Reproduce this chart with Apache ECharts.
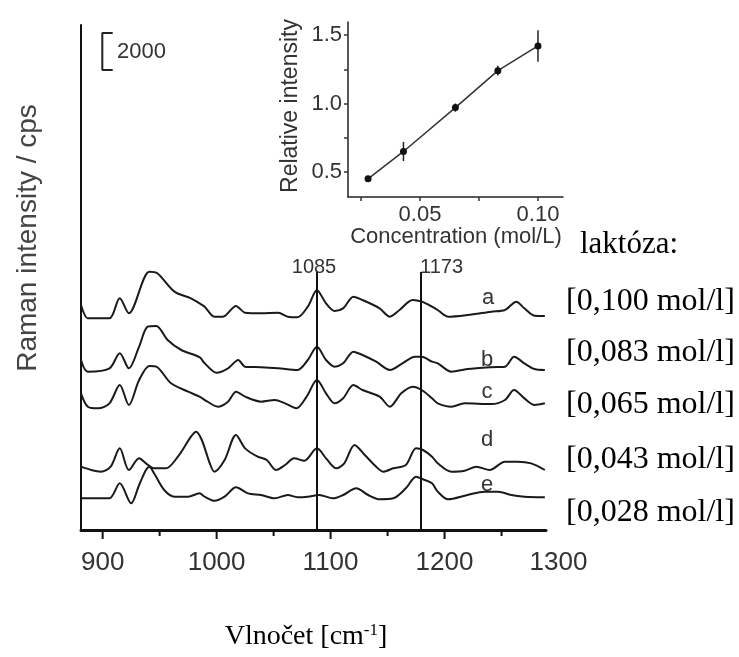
<!DOCTYPE html>
<html><head><meta charset="utf-8">
<script src="https://cdn.jsdelivr.net/npm/echarts@6/dist/echarts.min.js"></script>
<style>html,body{margin:0;padding:0;background:#fff}#c{width:739px;height:657px}</style>
</head><body><div id="c"></div>
<script>
// ---- Raman spectra (wavenumber cm-1, intensity cps incl. stacking offset) ----
const specA = [[881,12150],[887,11430],[893,11430],[906,11430],[915,12510],[923,11700],[941,13950],[948,13860],[963,12870],[977.5,12510],[985,12240],[989.5,12060],[998,11520],[1005.5,11520],[1017,12100],[1025,11730],[1039,11700],[1054,11730],[1062.5,11520],[1071,11490],[1080,12060],[1088,12950],[1096,12240],[1103.5,11830],[1111,11970],[1120,12600],[1128,12420],[1143,11970],[1152,11520],[1160.5,11880],[1172,12420],[1180,12330],[1189,12060],[1194,11880],[1203,11520],[1220,11610],[1241,11790],[1253,11880],[1263,12330],[1270,11970],[1279,11570],[1288,11560]];
const specB = [[881,9180],[887,8550],[906,8730],[915,9540],[923,8730],[932,9900],[939.5,10980],[947,11020],[957,10260],[969,9720],[985,9330],[989.5,9000],[1000,8490],[1010,8730],[1019,9180],[1025,8820],[1039,8790],[1054,8730],[1071,8640],[1080,9180],[1088,9900],[1096,9180],[1103.5,8820],[1111,9000],[1120,9630],[1128,9450],[1140,9090],[1152,8640],[1163,9000],[1174,9360],[1180,9360],[1189,9090],[1194,9000],[1206,8550],[1220,8690],[1241,8790],[1253,8820],[1261,9360],[1270,9000],[1279,8690],[1288,8640]];
const specC = [[881,7380],[887,6660],[896,6570],[906,6840],[915,7830],[923,6750],[932,8100],[941,8860],[948,8790],[960,7920],[975,7470],[985,7200],[992,6930],[1001,6660],[1010,6930],[1017,7470],[1025,7200],[1039,6930],[1051,7020],[1060,6840],[1070,6570],[1079,7200],[1088,8100],[1096,7380],[1103.5,6840],[1111,7110],[1120,7830],[1128,7560],[1143,7200],[1152,6660],[1162,7380],[1172,7740],[1180,7560],[1189,7110],[1194,6840],[1206,6660],[1217.5,6840],[1241,6800],[1253,7020],[1261,7560],[1270,7110],[1279,6750],[1288,6840]];
const specD = [[881,3420],[890,3240],[898.5,3150],[907,3420],[915,4410],[923,3240],[932,3870],[938,3600],[945,3330],[955.5,3330],[966,3960],[977.5,5040],[982,5310],[987,4860],[994,3600],[998,3150],[1007,3780],[1017,5130],[1025,4410],[1036,3960],[1044,3780],[1052,3240],[1060,3510],[1068,3870],[1077,3740],[1088,4410],[1096,3870],[1105,3330],[1112,3600],[1121,4590],[1130,4050],[1140,3420],[1146,3150],[1155,3330],[1166,3510],[1175,4410],[1181,4320],[1189,3960],[1194,3600],[1206,3150],[1217.5,3200],[1228,3420],[1239.5,3240],[1253,3690],[1264,3690],[1276,3600],[1288,3240]];
const specE = [[881,1710],[896,1710],[906,1710],[915,2520],[925,1440],[932,2430],[938,3240],[941,3400],[945.5,3020],[954,2160],[963,1800],[975,1800],[985,1980],[989.5,1800],[998,1580],[1007,1800],[1017,2310],[1027.5,1980],[1039,1890],[1051,1710],[1062.5,1890],[1071,1770],[1080,1800],[1090,1890],[1102,1710],[1111,1890],[1122.5,2250],[1133,1890],[1143,1660],[1155,1710],[1166,2250],[1175,2880],[1181,2740],[1189,2520],[1194,2070],[1203,1660],[1220,1890],[1235,2070],[1247,2070],[1258.5,1890],[1270,1800],[1288,1770]];
const spectrumLetters = ['a','b','c','d','e'];
const concLabels = ['[0,100 mol/l]','[0,083 mol/l]','[0,065 mol/l]','[0,043 mol/l]','[0,028 mol/l]'];
const xTickLabels = [900,1000,1100,1200,1300];
const xMajorTicks = [900,1000,1100,1200];
const xMinorTicks = [950,1050,1150,1250];
const peakLinePos = [1088,1179];
const peakLineTop = 13930;
const peakLabels = ['1085','1173'];
const scaleBar = [[908.8,26840],[899.7,26840],[899.7,24840],[908.8,24840]]; // 2000 cps
const scaleBarLabel = '2000';

// ---- Inset: relative intensity vs concentration ----
const conc = [0.028,0.043,0.065,0.083,0.100];
const relInt = [0.45,0.65,0.97,1.24,1.42];
const relErr = [0.02,0.07,0.03,0.035,0.115];
const insetXLabels = [0.05,0.10];
const insetXTicks = [0.025,0.05,0.075,0.10];
const insetYLabels = [0.5,1.0,1.5];
const insetYTicks = [0.5,0.75,1.0,1.25,1.5];

const SANS = 'Liberation Sans, Arial, sans-serif';
const SERIF = 'Liberation Serif, Times New Roman, serif';
const TXT = '#333';

const chart = echarts.init(document.getElementById('c'), null, {renderer:'canvas'});

const specSeries = [specA,specB,specC,specD,specE].map((d,i)=>({
  type:'line', xAxisIndex:0, yAxisIndex:0, data:d, showSymbol:false, smooth:0.3,
  lineStyle:{color:'#1a1a1a', width:2}, z:3, silent:true
}));

const letterPos = [[488,298],[487,360],[487,392],[487,440],[487,485]];
const concPosY = [302,353,405,460,513];

const graphics = [];
spectrumLetters.forEach((t,i)=>graphics.push({type:'text', x:letterPos[i][0], y:letterPos[i][1],
  style:{text:t, font:'22px '+SANS, fill:TXT, align:'center', verticalAlign:'middle'}}));
graphics.push({type:'text', x:580, y:245, style:{text:'laktóza:', font:'31px '+SERIF, fill:'#000', align:'left', verticalAlign:'middle'}});
concLabels.forEach((t,i)=>graphics.push({type:'text', x:566, y:concPosY[i],
  style:{text:t, font:'32px '+SERIF, fill:'#000', align:'left', verticalAlign:'middle'}}));
graphics.push({type:'text', x:314, y:267, style:{text:peakLabels[0], font:'20px '+SANS, fill:TXT, align:'center', verticalAlign:'middle'}});
graphics.push({type:'text', x:420, y:267, style:{text:peakLabels[1], font:'20px '+SANS, fill:TXT, align:'left', verticalAlign:'middle'}});
graphics.push({type:'text', x:117, y:52, style:{text:scaleBarLabel, font:'22px '+SANS, fill:TXT, align:'left', verticalAlign:'middle'}});
graphics.push({type:'text', x:28, y:238, rotation:Math.PI/2, style:{text:'Raman intensity / cps', font:'28px '+SANS, fill:'#444', align:'center', verticalAlign:'middle'}});
graphics.push({type:'text', x:291, y:106, rotation:Math.PI/2, style:{text:'Relative intensity', font:'23px '+SANS, fill:TXT, align:'center', verticalAlign:'middle'}});
graphics.push({type:'text', x:456, y:237, style:{text:'Concentration (mol/L)', font:'22px '+SANS, fill:TXT, align:'center', verticalAlign:'middle'}});
graphics.push({type:'text', x:306, y:637, style:{text:'Vlnočet [cm{sup|-1}]', font:'28px '+SERIF, fill:'#000', align:'center', verticalAlign:'middle',
  rich:{sup:{fontSize:17, fontFamily:SERIF, fill:'#000', verticalAlign:'top', lineHeight:30}}}});

const tickLen = {major:8, minor:5};

const option = {
  animation:false,
  backgroundColor:'#fff',
  grid:[
    {left:81, top:25, width:465, height:505},
    {left:81, top:25, width:477.5, height:505},
    {left:348, top:22, width:215, height:175}
  ],
  xAxis:[
    {gridIndex:0, type:'value', min:881, max:1289,
     axisLine:{show:true, onZero:false, lineStyle:{color:'#111', width:3}},
     axisTick:{show:false}, axisLabel:{show:false}, splitLine:{show:false}},
    {gridIndex:1, type:'value', min:881, max:1300,
     axisLine:{show:false, onZero:false}, axisTick:{show:false},
     axisLabel:{show:true, customValues:xTickLabels, formatter:v=>String(v), fontSize:26, fontFamily:SANS, color:TXT, margin:20},
     splitLine:{show:false}},
    {gridIndex:2, type:'value', min:0.0195, max:0.1106,
     axisLine:{show:true, onZero:false, lineStyle:{color:'#222', width:1.5}},
     axisTick:{show:true, customValues:insetXTicks, length:4, lineStyle:{color:'#333', width:1.5}},
     axisLabel:{show:true, customValues:insetXLabels, formatter:v=>v.toFixed(2), fontSize:22, fontFamily:SANS, color:TXT, margin:7},
     splitLine:{show:false}}
  ],
  yAxis:[
    {gridIndex:0, type:'value', min:0, max:27270,
     axisLine:{show:true, onZero:false, lineStyle:{color:'#111', width:2}},
     axisTick:{show:false}, axisLabel:{show:false}, splitLine:{show:false}},
    {gridIndex:1, type:'value', min:0, max:27270, show:false},
    {gridIndex:2, type:'value', min:0.3175, max:1.595,
     axisLine:{show:true, onZero:false, lineStyle:{color:'#222', width:1.5}},
     axisTick:{show:true, customValues:insetYTicks, length:4, lineStyle:{color:'#333', width:1.5}},
     axisLabel:{show:true, customValues:insetYLabels, formatter:v=>v.toFixed(1), fontSize:22, fontFamily:SANS, color:TXT, margin:6},
     splitLine:{show:false}}
  ],
  series:[
    ...specSeries,
    {type:'line', xAxisIndex:0, yAxisIndex:0, data:scaleBar, showSymbol:false,
     lineStyle:{color:'#222', width:2}, silent:true},
    {type:'line', xAxisIndex:0, yAxisIndex:0, data:[], silent:true,
     markLine:{symbol:'none', silent:true, label:{show:false},
       lineStyle:{color:'#111', width:2, type:'solid'},
       data: peakLinePos.map(p=>[{coord:[p,0]},{coord:[p,peakLineTop]}])}},
    {type:'line', xAxisIndex:1, yAxisIndex:1, data:[[881,0],[1300,0]], showSymbol:false, lineStyle:{opacity:0}, silent:true},
    {type:'custom', xAxisIndex:2, yAxisIndex:2,
     data: conc.map((c,i)=>[c, relInt[i]-relErr[i], relInt[i]+relErr[i]]),
     renderItem:(params, api)=>{
       const a = api.coord([api.value(0), api.value(1)]);
       const b = api.coord([api.value(0), api.value(2)]);
       return {type:'line', shape:{x1:a[0], y1:a[1], x2:b[0], y2:b[1]}, style:{stroke:'#222', lineWidth:1.5}};
     }, z:4},
    {type:'line', xAxisIndex:2, yAxisIndex:2, data: conc.map((c,i)=>[c, relInt[i]]),
     symbol:'circle', symbolSize:7, itemStyle:{color:'#111'},
     lineStyle:{color:'#333', width:1.5}, z:5}
  ],
  graphic: graphics
};
chart.setOption(option);

// main x-axis tick marks, placed through the library's x scale
const tickEls = [];
xMajorTicks.forEach(v=>{
  const p = chart.convertToPixel({xAxisIndex:0, yAxisIndex:0}, [v, 0]);
  tickEls.push({type:'line', z:100, shape:{x1:p[0], y1:p[1]+1, x2:p[0], y2:p[1]+1+tickLen.major}, style:{stroke:'#111', lineWidth:2}});
});
xMinorTicks.forEach(v=>{
  const p = chart.convertToPixel({xAxisIndex:0, yAxisIndex:0}, [v, 0]);
  tickEls.push({type:'line', z:100, shape:{x1:p[0], y1:p[1]+1, x2:p[0], y2:p[1]+1+tickLen.minor}, style:{stroke:'#111', lineWidth:2}});
});
chart.setOption({graphic: graphics.concat(tickEls)});
</script></body></html>
